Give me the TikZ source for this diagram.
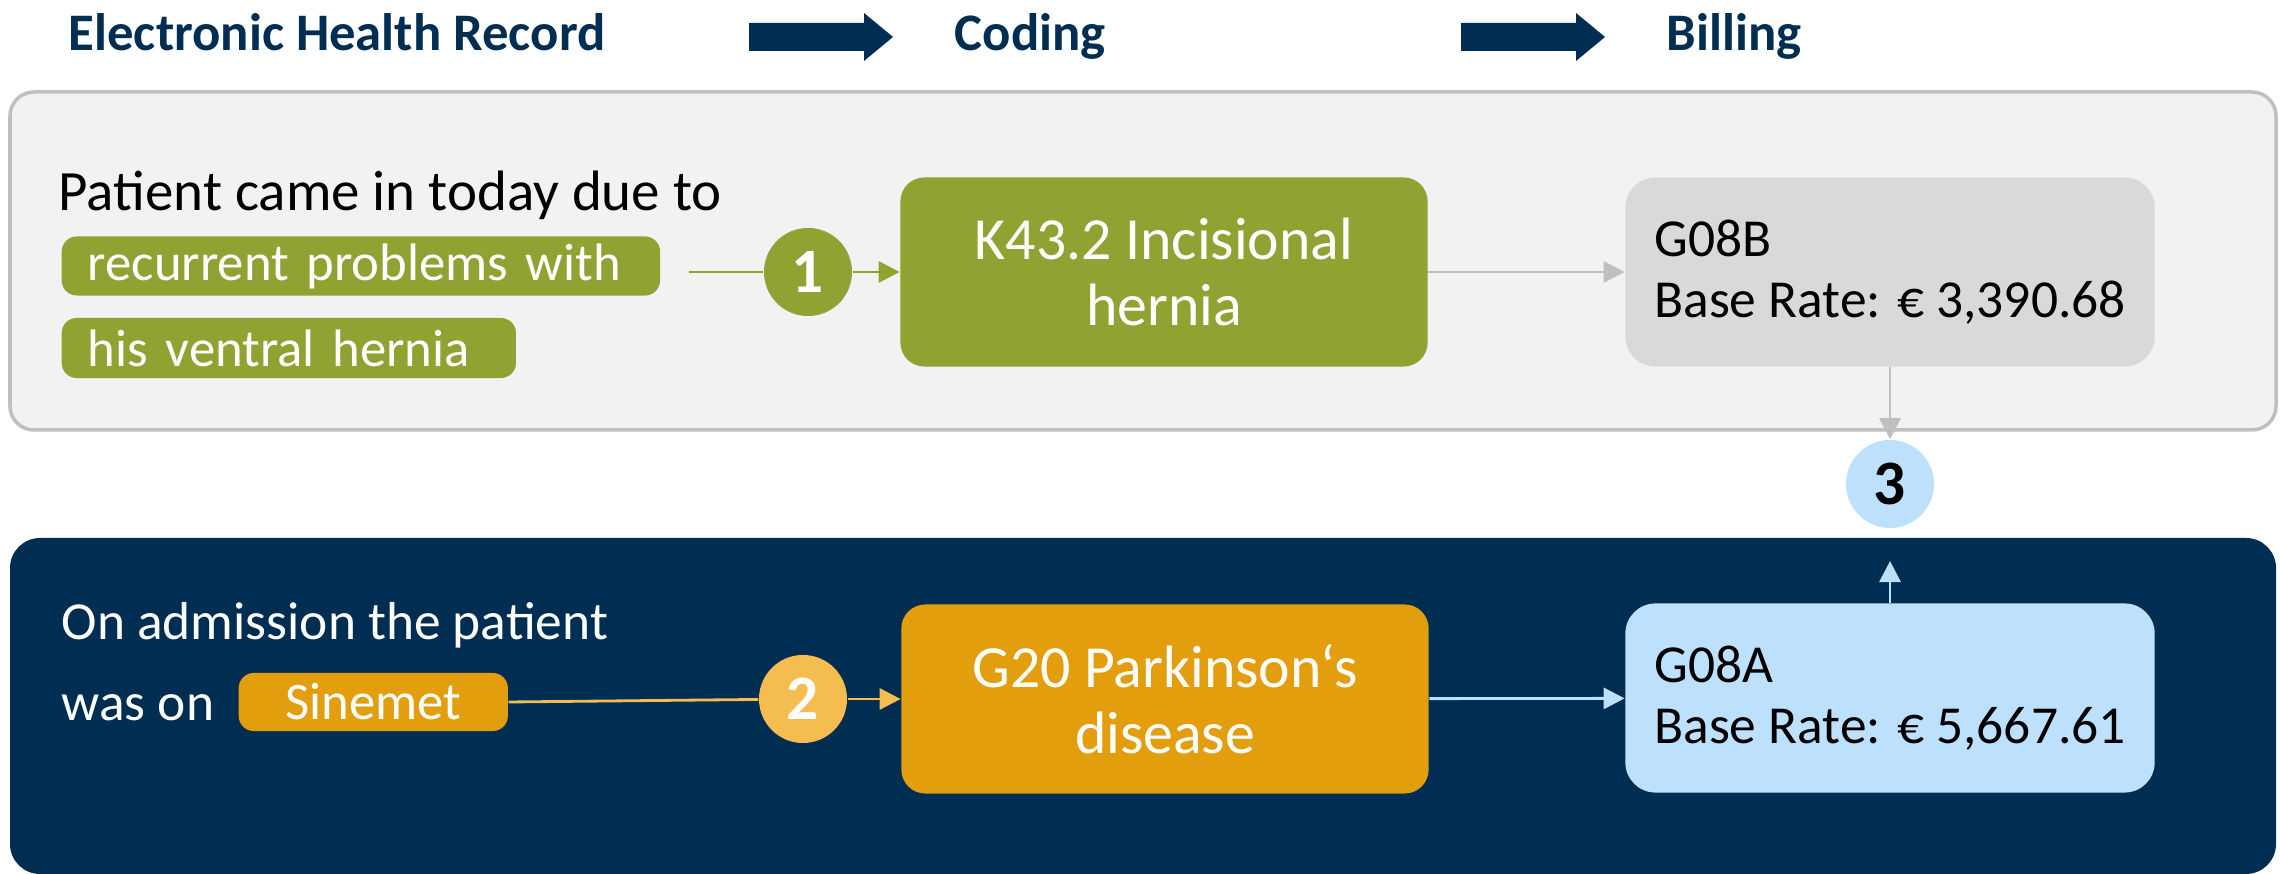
\documentclass[tikz,border=0pt]{standalone}
\usepackage{fontspec}
\setmainfont{Carlito}
\usetikzlibrary{arrows.meta}
\definecolor{navy}{RGB}{0,45,82}
\definecolor{panelgray}{RGB}{242,242,242}
\definecolor{panelborder}{RGB}{191,191,191}
\definecolor{hgreen}{RGB}{143,163,50}
\definecolor{boxgray}{RGB}{217,217,217}
\definecolor{lblue}{RGB}{189,225,253}
\definecolor{horange}{RGB}{227,158,14}
\definecolor{lorange}{RGB}{245,189,79}
\definecolor{arrgray}{RGB}{191,191,191}
\tikzset{
  hdr/.style={font=\fontsize{15}{18}\selectfont\bfseries, text=navy, anchor=base west, inner sep=0},
  body/.style={font=\fontsize{16.2}{19}\selectfont, anchor=base west, inner sep=0},
  bodyb/.style={font=\fontsize{15.2}{19}\selectfont, anchor=base west, inner sep=0},
  pill/.style={rounded corners=0.15cm, anchor=west, font=\fontsize{15}{18}\selectfont, text=white, inner ysep=0},
  codebox/.style={rounded corners=0.24cm, minimum width=5.27cm, minimum height=1.89cm, text=white, align=center, font=\fontsize{17}{18.8}\selectfont, inner sep=0},
  billbox/.style={rounded corners=0.3cm, minimum width=5.29cm, minimum height=1.89cm, align=left, inner sep=0, font=\fontsize{15.2}{17.2}\selectfont},
  num/.style={circle, minimum size=0.88cm, inner sep=0, font=\fontsize{18}{20}\selectfont\bfseries},
  conn/.style={line width=0.8pt, -{Triangle[length=6pt,width=6pt]}},
  plain/.style={line width=0.8pt},
  bigarrow/.style={fill=navy, draw=none},
}
\begin{document}
\begin{tikzpicture}[x=0.01cm,y=-0.01cm]
\useasboundingbox (0,0) rectangle (2280,874);
\begin{scope}
\clip (0,0) rectangle (2280,874);
% header
\node[hdr] (hehr) at (68,51) {Electronic Health Record};
\node[hdr] (hcod) at (954,51) {Coding};
\node[hdr] (hbil) at (1666,51) {Billing};
\fill[bigarrow] (749,23) -- (864,23) -- (864,13) -- (893,37) -- (864,61) -- (864,51) -- (749,51) -- cycle;
\fill[bigarrow] (1461,23) -- (1576,23) -- (1576,13) -- (1605,37) -- (1576,61) -- (1576,51) -- (1461,51) -- cycle;
% panels
\filldraw[fill=panelgray, draw=panelborder, line width=1pt, rounded corners=0.24cm] (10,92) rectangle (2276,430);
\fill[navy, rounded corners=0.3cm] (10,538) rectangle (2276,874);
% top row
\node[body] (t1) at (58,211) {Patient came in today due to};
\node[pill, fill=hgreen, minimum width=5.98cm, minimum height=0.59cm, text width=5.46cm, inner xsep=0.26cm, align=left] (p1) at (61,266) {recurrent problems with};
\node[pill, fill=hgreen, minimum width=4.54cm, minimum height=0.6cm, text width=4.02cm, inner xsep=0.26cm, align=left] (p2) at (61,348) {his ventral hernia};
\coordinate (s1) at (689,272);
\node[num, fill=hgreen, text=white] (c1) at (808,272) {1};
\node[codebox, fill=hgreen] (k43) at (1164,272) {K43.2 Incisional\\hernia};
\node[billbox, fill=boxgray] (g08b) at (1890,272) {G08B\\Base Rate: € 3,390.68};
\draw[plain, hgreen] (s1) -- (c1);
\draw[conn, hgreen] (c1) -- (k43);
\draw[conn, arrgray] (k43) -- (g08b);
\node[num, fill=lblue, text=black] (c3) at (1890,484) {3};
\draw[conn, arrgray] (g08b) -- (c3);
% bottom row
\node[bodyb, text=white] (b1) at (61,640) {On admission the patient};
\node[bodyb, text=white] (b2) at (61,721) {was on};
\node[pill, fill=horange, minimum width=2.69cm, minimum height=0.58cm, inner xsep=0] (sin) at (238,702) {Sinemet};
\node[num, fill=lorange, text=white] (c2) at (803,699) {2};
\node[codebox, fill=horange] (g20) at (1165,699) {G20 Parkinson‘s\\disease};
\node[billbox, fill=lblue] (g08a) at (1890,698) {G08A\\Base Rate: € 5,667.61};
\coordinate (a3) at (1890,561);
\draw[plain, lorange] (sin.east) -- (c2);
\draw[conn, lorange] (c2) -- (g20);
\draw[conn, lblue] (g20) -- (g08a);
\draw[conn, lblue] (g08a) -- (a3);
\end{scope}
\end{tikzpicture}
\end{document}
